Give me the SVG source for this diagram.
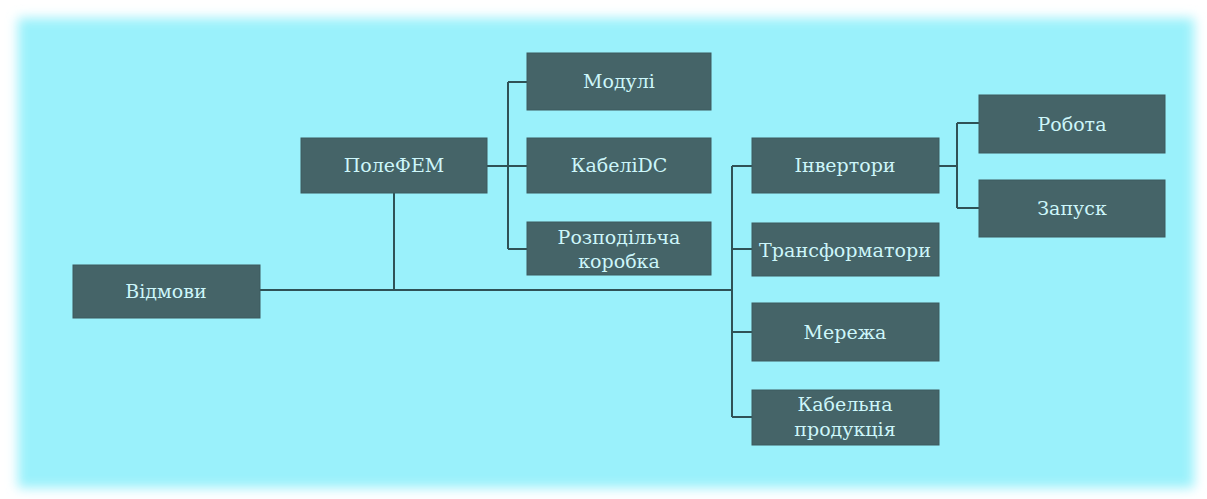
<svg xmlns="http://www.w3.org/2000/svg" width="1207" height="499" viewBox="0 0 1207 499">
<defs>
<filter id="glow" x="-5%" y="-10%" width="110%" height="120%"><feGaussianBlur stdDeviation="6"/></filter>
<style>
.n rect{fill:#456468;stroke:#3c5a5e;stroke-width:1}
.n text{font-family:'DejaVu Serif','Liberation Serif',serif;font-size:19px;fill:#cdf6fa;text-anchor:middle;dominant-baseline:central}
.c path{fill:none;stroke:#2f5256;stroke-width:2}
</style>
</defs>
<rect x="0" y="0" width="1207" height="499" fill="#ffffff"/>
<rect x="18" y="18" width="1176" height="470" fill="#9af1fb" filter="url(#glow)"/>
<rect x="30" y="30" width="1152" height="446" fill="#9af1fb"/>
<g class="c">
<path d="M260,290 H732"/>
<path d="M394,193 V290"/>
<path d="M487,166 H527 M508,82 V249 M508,82 H527 M508,249 H527"/>
<path d="M732,166 V417 M732,166 H752 M732,249 H752 M732,332 H752 M732,417 H752"/>
<path d="M939,166 H957 M957,123 V208 M957,123 H979 M957,208 H979"/>
</g>
<g id="vidmovy" class="n"><rect x="73" y="265" width="187" height="53"/><text x="166" y="291">Відмови</text></g>
<g id="polefem" class="n"><rect x="301" y="138" width="186" height="55"/><text x="394" y="165">ПолеФЕМ</text></g>
<g id="moduli" class="n"><rect x="527" y="53" width="184" height="57"/><text x="619" y="81">Модулі</text></g>
<g id="kabelidc" class="n"><rect x="527" y="138" width="184" height="55"/><text x="619" y="165">КабеліDC</text></g>
<g id="rozpod" class="n"><rect x="527" y="222" width="184" height="53"/><text x="619" y="237">Розподільча</text><text x="619" y="261">коробка</text></g>
<g id="invertory" class="n"><rect x="752" y="138" width="187" height="55"/><text x="845" y="165">Інвертори</text></g>
<g id="transf" class="n"><rect x="752" y="223" width="187" height="53"/><text x="845" y="250" textLength="172" lengthAdjust="spacingAndGlyphs">Трансформатори</text></g>
<g id="merezha" class="n"><rect x="752" y="303" width="187" height="58"/><text x="845" y="332">Мережа</text></g>
<g id="kabelna" class="n"><rect x="752" y="390" width="187" height="55"/><text x="845" y="404">Кабельна</text><text x="845" y="429">продукція</text></g>
<g id="robota" class="n"><rect x="979" y="95" width="186" height="58"/><text x="1072" y="124">Робота</text></g>
<g id="zapusk" class="n"><rect x="979" y="180" width="186" height="57"/><text x="1072" y="208">Запуск</text></g>
</svg>
